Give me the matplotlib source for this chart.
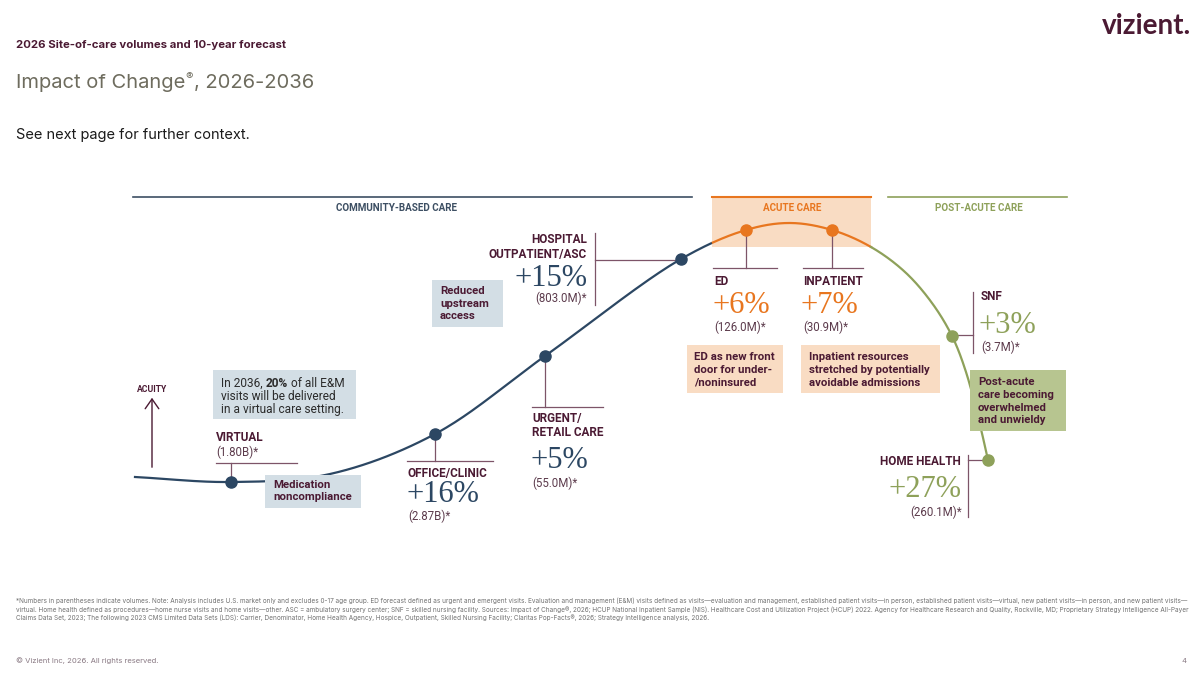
import numpy as np
import matplotlib
matplotlib.use('Agg')
import matplotlib.pyplot as plt
from matplotlib.patches import Rectangle, FancyArrowPatch

# ---------------- data ----------------
sites = ['VIRTUAL', 'OFFICE/CLINIC', 'URGENT/\nRETAIL CARE', 'HOSPITAL\nOUTPATIENT/ASC',
         'ED', 'INPATIENT', 'SNF', 'HOME HEALTH']
pct_change = ['', '+16%', '+5%', '+15%', '+6%', '+7%', '+3%', '+27%']
volumes = ['(1.80B)*', '(2.87B)*', '(55.0M)*', '(803.0M)*', '(126.0M)*', '(30.9M)*', '(3.7M)*', '(260.1M)*']
segments = ['COMMUNITY-BASED CARE', 'ACUTE CARE', 'POST-ACUTE CARE']
# acuity curve shape (x = care continuum, y = acuity, screen units)
curve_x = [135, 231, 330, 435, 545, 681, 746, 790, 832, 871, 905, 932, 952, 966, 980, 988]
curve_y = [477, 482, 474, 434, 356, 259, 230, 223, 230, 247, 272, 303, 336, 372, 425, 460]
site_x = [231, 435, 545, 681, 746, 832, 952, 988]
site_y = [482, 434, 356, 259, 230, 230, 336, 460]
callouts = ['In 2036, |20%| of all E&M\nvisits will be delivered\nin a virtual care setting.',
            'Medication\nnoncompliance', 'Reduced\nupstream\naccess',
            'ED as new front\ndoor for under-\n/noninsured',
            'Inpatient resources\nstretched by potentially\navoidable admissions',
            'Post-acute\ncare becoming\noverwhelmed\nand unwieldy']

# ---------------- style ----------------
MAROON = '#4b1a33'
NAVY = '#2c4763'
ORANGE = '#e8761f'
GREEN = '#8ea15a'
LEAD = '#7d5468'
BLUEBOX = '#d3dee5'
ORBOX = '#f9dcc3'
GRBOX = '#b7c590'
SANS = ['Roboto', 'DejaVu Sans']
SERIF = ['Liberation Serif', 'DejaVu Serif']
INTER = ['Inter', 'DejaVu Sans']
plt.rcParams['font.family'] = SANS

fig = plt.figure(figsize=(12, 6.75), dpi=100)
ax = fig.add_axes([0, 0, 1, 1])
ax.set_xlim(0, 1200)
ax.set_ylim(675, 0)
ax.axis('off')


def T(x, y, s, size=8.5, color=MAROON, weight='normal', ha='left', va='baseline', family=SANS, **kw):
    return ax.text(x, y, s, fontsize=size, color=color, fontweight=weight, ha=ha, va=va,
                   family=family, zorder=6, **kw)


def lines(x, y0, txt, dy, **kw):
    for i, s in enumerate(txt.split('\n')):
        T(x, y0 + i * dy, s, **kw)


# ---------------- header ----------------
T(16, 48, '2026 Site-of-care volumes and 10-year forecast', size=8.2, weight='bold', family=INTER)
t1 = T(16, 88, 'Impact of Change', size=14.5, color='#6e6c5e', family=INTER)
ax.annotate('®', xy=(1, 0.55), xycoords=t1, fontsize=8, color='#6e6c5e', va='bottom', family=INTER)
ax.annotate(', 2026-2036', xy=(1, 0), xycoords=t1, xytext=(6, 0), textcoords='offset points',
            fontsize=14.5, color='#6e6c5e', va='bottom', family=INTER)
T(16, 139, 'See next page for further context.', size=10.5, color='#1a1a1a', family=INTER)
T(1191, 34, 'vizient.', size=20, weight='bold', ha='right', family=['Lato', 'DejaVu Sans'])

# ---------------- segment headers ----------------
ax.plot([133, 692], [197, 197], color='#3d4f63', lw=1.2, zorder=2)
ax.add_patch(Rectangle((712, 197), 159, 50, facecolor=ORBOX, edgecolor='none', zorder=1))
ax.plot([712, 871], [197, 197], color=ORANGE, lw=1.5, zorder=2)
ax.plot([888, 1067], [197, 197], color=GREEN, lw=1.2, zorder=2)
T(397, 211, segments[0], size=7.1, weight='bold', color='#3d4f63', ha='center')
T(792, 211, segments[1], size=7.1, weight='bold', color=ORANGE, ha='center')
T(979, 211, segments[2], size=7.1, weight='bold', color=GREEN, ha='center')


# ---------------- curve ----------------
def centripetal(px, py, n=40):
    P = np.column_stack([px, py]).astype(float)
    P = np.vstack([2 * P[0] - P[1], P, 2 * P[-1] - P[-2]])
    out = []
    for i in range(1, len(P) - 2):
        p0, p1, p2, p3 = P[i - 1], P[i], P[i + 1], P[i + 2]
        t0 = 0
        t1_ = t0 + np.linalg.norm(p1 - p0) ** 0.5
        t2_ = t1_ + np.linalg.norm(p2 - p1) ** 0.5
        t3_ = t2_ + np.linalg.norm(p3 - p2) ** 0.5
        t = np.linspace(t1_, t2_, n)[:, None]
        A1 = (t1_ - t) / (t1_ - t0) * p0 + (t - t0) / (t1_ - t0) * p1
        A2 = (t2_ - t) / (t2_ - t1_) * p1 + (t - t1_) / (t2_ - t1_) * p2
        A3 = (t3_ - t) / (t3_ - t2_) * p2 + (t - t2_) / (t3_ - t2_) * p3
        B1 = (t2_ - t) / (t2_ - t0) * A1 + (t - t0) / (t2_ - t0) * A2
        B2 = (t3_ - t) / (t3_ - t1_) * A2 + (t - t1_) / (t3_ - t1_) * A3
        C = (t2_ - t) / (t2_ - t1_) * B1 + (t - t1_) / (t2_ - t1_) * B2
        out.append(C if i == 1 else C[1:])
    return np.vstack(out)


C = centripetal(curve_x, curve_y)
cx, cy = C[:, 0], C[:, 1]
m1 = cx <= 712.5
m2 = (cx >= 711.5) & (cx <= 871.5)
m3 = cx >= 870.5
ax.plot(cx[m1], cy[m1], color=NAVY, lw=1.6, zorder=3)
ax.plot(cx[m2], cy[m2], color=ORANGE, lw=1.6, zorder=3)
ax.plot(cx[m3], cy[m3], color=GREEN, lw=1.6, zorder=3)

site_col = [NAVY, NAVY, NAVY, NAVY, ORANGE, ORANGE, GREEN, GREEN]
for x, y, c in zip(site_x, site_y, site_col):
    ax.plot(x, y, 'o', ms=8, color=c, zorder=5)

# ---------------- leader lines ----------------
lk = dict(color=LEAD, lw=0.9, zorder=2)
ax.plot([216, 297], [463, 463], **lk); ax.plot([231, 231], [463, 482], **lk)
ax.plot([407, 493], [461, 461], **lk); ax.plot([435, 435], [434, 461], **lk)
ax.plot([532, 603], [407, 407], **lk); ax.plot([545, 545], [356, 407], **lk)
ax.plot([595, 595], [233, 305], **lk); ax.plot([595, 681], [260, 260], **lk)
ax.plot([713, 777], [268, 268], **lk); ax.plot([746, 746], [230, 268], **lk)
ax.plot([803, 863], [268, 268], **lk); ax.plot([832, 832], [230, 268], **lk)
ax.plot([973, 973], [292, 353], **lk); ax.plot([952, 973], [335, 335], **lk)
ax.plot([968, 968], [455, 517], **lk); ax.plot([968, 988], [460, 460], **lk)

# ---------------- site labels ----------------
PCT = 22
VOLC = '#5c3b4c'
T(216, 441, sites[0], size=8.5, weight='bold')
T(216, 456, volumes[0], size=8.3, color=VOLC)
T(408, 477, sites[1], size=8.5, weight='bold')
T(406, 502, pct_change[1], size=PCT, color=NAVY, family=SERIF)
T(408, 520, volumes[1], size=8.3, color=VOLC)
lines(532, 422, sites[2], 14.5, size=8.5, weight='bold')
T(530, 468, pct_change[2], size=PCT, color=NAVY, family=SERIF)
T(532, 487, volumes[2], size=8.3, color=VOLC)
lines(587, 243, sites[3], 15, size=8.5, weight='bold', ha='right')
T(588, 286, pct_change[3], size=PCT, color=NAVY, family=SERIF, ha='right')
T(587, 302, volumes[3], size=8.3, color=VOLC, ha='right')
T(714, 285, sites[4], size=8.5, weight='bold')
T(712, 313, pct_change[4], size=PCT, color=ORANGE, family=SERIF)
T(714, 331, volumes[4], size=8.3, color=VOLC)
T(803, 285, sites[5], size=8.5, weight='bold')
T(801, 313, pct_change[5], size=PCT, color=ORANGE, family=SERIF)
T(803, 331, volumes[5], size=8.3, color=VOLC)
T(981, 300, sites[6], size=8.5, weight='bold')
T(979, 333, pct_change[6], size=PCT, color=GREEN, family=SERIF)
T(981, 351, volumes[6], size=8.3, color=VOLC)
T(961, 465, sites[7], size=8.5, weight='bold', ha='right')
T(961, 497, pct_change[7], size=PCT, color=GREEN, family=SERIF, ha='right')
T(962, 516, volumes[7], size=8.3, color=VOLC, ha='right')


# ---------------- callout boxes ----------------
def box(x0, y0, x1, y1, fc):
    ax.add_patch(Rectangle((x0, y0), x1 - x0, y1 - y0, facecolor=fc, edgecolor='none', zorder=4))


box(213, 370, 356, 419, BLUEBOX)
parts = callouts[0].split('\n')
a, b, c = parts[0].split('|')
ta = T(221, 387, a, size=8.6, color='#2b2b2b')
tb = ax.annotate(b, xy=(1, 0), xycoords=ta, va='bottom', fontsize=8.6, color='#2b2b2b',
                 fontweight='bold', family=SANS, zorder=6)
ax.annotate(c, xy=(1, 0), xycoords=tb, va='bottom', fontsize=8.6, color='#2b2b2b', family=SANS, zorder=6)
T(221, 400, parts[1], size=8.6, color='#2b2b2b')
T(221, 413, parts[2], size=8.6, color='#2b2b2b')

box(265, 475, 361, 508, BLUEBOX)
lines(273, 488, callouts[1], 12.5, size=8.2, weight='bold')
box(432, 280, 503, 327, BLUEBOX)
lines(440, 294, callouts[2], 12.6, size=8.2, weight='bold')
box(687, 345, 783, 393, ORBOX)
lines(694, 360, callouts[3], 13, size=8.2, weight='bold')
box(801, 345, 940, 393, ORBOX)
lines(809, 360, callouts[4], 13, size=8.2, weight='bold')
box(970, 370, 1066, 431, GRBOX)
lines(978, 385, callouts[5], 12.8, size=8.2, weight='bold')

# ---------------- acuity arrow ----------------
ax.add_patch(FancyArrowPatch((152, 470), (152, 395), arrowstyle='->,head_length=5,head_width=3.5',
                             color=MAROON, lw=1.0, zorder=3, mutation_scale=1.4))
T(152, 392, 'ACUITY', size=6.2, weight='bold', ha='center')

# ---------------- footnote ----------------
foot = [
    '*Numbers in parentheses indicate volumes. Note: Analysis includes U.S. market only and excludes 0-17 age group. ED forecast defined as urgent and emergent visits. Evaluation and management (E&M) visits defined as visits\u2014evaluation and management, established patient visits\u2014in person, established patient visits\u2014virtual, new patient visits\u2014in person, and new patient visits\u2014',
    'virtual. Home health defined as procedures\u2014home nurse visits and home visits\u2014other. ASC = ambulatory surgery center; SNF = skilled nursing facility. Sources: Impact of Change\u00ae, 2026; HCUP National Inpatient Sample (NIS). Healthcare Cost and Utilization Project (HCUP) 2022. Agency for Healthcare Research and Quality, Rockville, MD; Proprietary Strategy Intelligence All-Payer',
    'Claims Data Set, 2023; The following 2023 CMS Limited Data Sets (LDS): Carrier, Denominator, Home Health Agency, Hospice, Outpatient, Skilled Nursing Facility; Claritas Pop-Facts\u00ae, 2026; Strategy Intelligence analysis, 2026.',
]
for i, s in enumerate(foot):
    T(16, 603 + i * 8.6, s, size=4.62, color='#707070', family=INTER)

T(16, 663, '\u00a9 Vizient Inc, 2026. All rights reserved.', size=5.5, color='#8a7a84', family=INTER)
T(1186, 663, '4', size=5.5, color='#8a7a84', ha='right', family=INTER)

fig.savefig('out.png', dpi=100)
